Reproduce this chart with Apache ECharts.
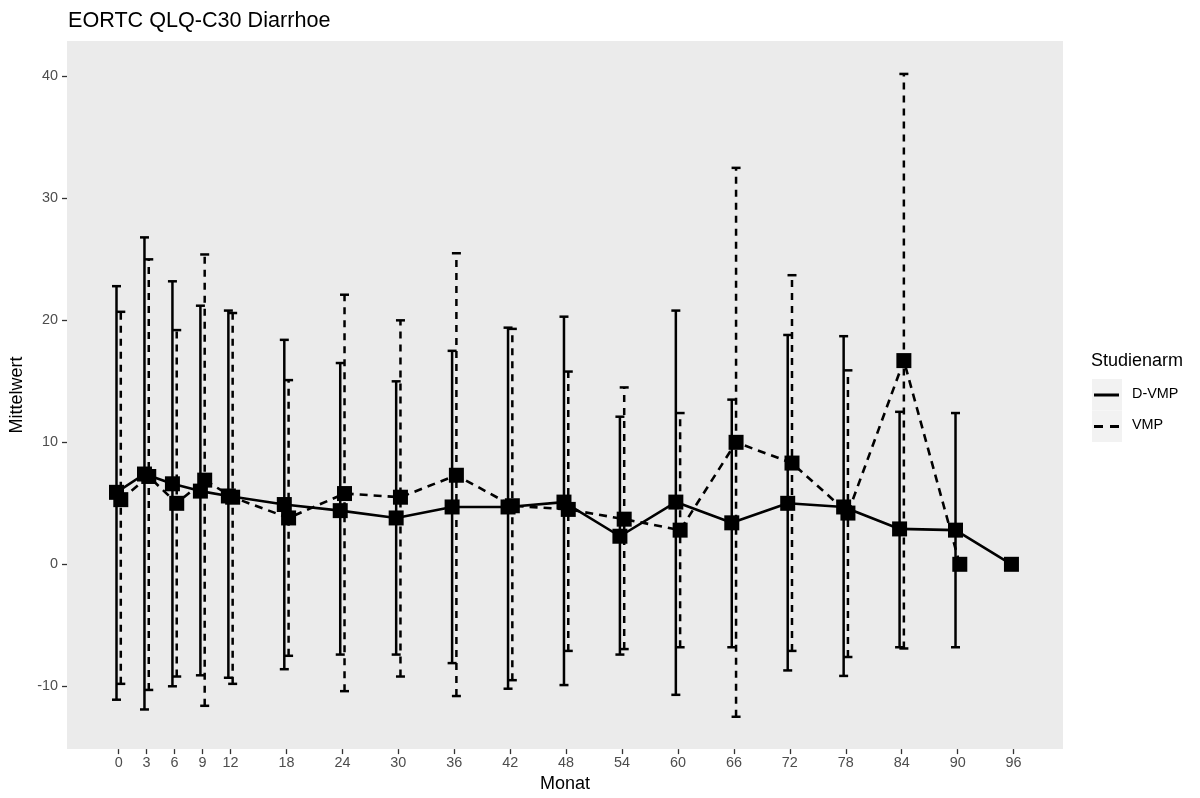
<!DOCTYPE html>
<html>
<head>
<meta charset="utf-8">
<script src="https://cdn.jsdelivr.net/npm/echarts@6/dist/echarts.min.js"></script>
<style>
  html, body { margin: 0; padding: 0; background: #fff; }
  #chart { width: 1200px; height: 798px; }
</style>
</head>
<body>
<div id="chart"></div>
<script>
// months of follow-up
const months = [0, 3, 6, 9, 12, 18, 24, 30, 36, 42, 48, 54, 60, 66, 72, 78, 84, 90, 96];
const xTicks = [0, 3, 6, 9, 12, 18, 24, 30, 36, 42, 48, 54, 60, 66, 72, 78, 84, 90, 96];
const yTicks = [-10, 0, 10, 20, 30, 40];

// D-VMP arm
const dvmpMean = [5.9, 7.4, 6.6, 6.0, 5.6, 4.9, 4.4, 3.8, 4.7, 4.7, 5.1, 2.3, 5.1, 3.4, 5.0, 4.7, 2.9, 2.8, 0];
const dvmpUpper = [22.8, 26.8, 23.2, 21.2, 20.8, 18.4, 16.5, 15.0, 17.5, 19.4, 20.3, 12.1, 20.8, 13.5, 18.8, 18.7, 12.5, 12.4, null];
const dvmpLower = [-11.1, -11.9, -10.0, -9.1, -9.3, -8.6, -7.4, -7.4, -8.1, -10.2, -9.9, -7.4, -10.7, -6.8, -8.7, -9.15, -6.8, -6.8, null];

// VMP arm (no value at month 96)
const vmpMean = [5.3, 7.2, 5.0, 6.9, 5.5, 3.8, 5.8, 5.5, 7.3, 4.8, 4.5, 3.7, 2.8, 10.0, 8.3, 4.2, 16.7, 0];
const vmpUpper = [20.7, 25.0, 19.2, 25.4, 20.6, 15.1, 22.1, 20.0, 25.5, 19.3, 15.8, 14.5, 12.4, 32.5, 23.7, 15.9, 40.2, null];
const vmpLower = [-9.8, -10.3, -9.2, -11.6, -9.8, -7.5, -10.4, -9.2, -10.8, -9.5, -7.1, -6.95, -6.8, -12.5, -7.1, -7.6, -6.9, null];

const dodge = 0.23;
const font = '"Liberation Sans", Arial, sans-serif';

function meanData(mean, shift) {
    return mean.map((v, i) => [months[i] + shift, v]);
}

function barData(lower, upper, shift) {
    const out = [];
    lower.forEach((lo, i) => {
        if (lo !== null && upper[i] !== null) out.push([months[i] + shift, lo, upper[i]]);
    });
    return out;
}

function errorBars(dash) {
    return function (params, api) {
        const lo = api.coord([api.value(0), api.value(1)]);
        const hi = api.coord([api.value(0), api.value(2)]);
        const w = 4.5;
        const style = { stroke: '#000', lineWidth: 2.5, lineDash: dash, fill: null };
        return {
            type: 'group',
            children: [
                { type: 'line', shape: { x1: lo[0], y1: lo[1], x2: hi[0], y2: hi[1] }, style: style },
                { type: 'line', shape: { x1: hi[0] - w, y1: hi[1], x2: hi[0] + w, y2: hi[1] }, style: { stroke: '#000', lineWidth: 2.5 } },
                { type: 'line', shape: { x1: lo[0] - w, y1: lo[1], x2: lo[0] + w, y2: lo[1] }, style: { stroke: '#000', lineWidth: 2.5 } }
            ]
        };
    };
}

const chart = echarts.init(document.getElementById('chart'));
const option = {
    animation: false,
    backgroundColor: '#ffffff',
    title: {
        text: 'EORTC QLQ-C30 Diarrhoe',
        left: 63,
        top: 5,
        textStyle: { fontFamily: font, fontSize: 21.6, fontWeight: 'normal', color: '#000' }
    },
    grid: {
        left: 66, top: 41, right: 137, bottom: 45.5,
        show: true, backgroundColor: '#EBEBEB', borderWidth: 0
    },
    xAxis: {
        type: 'value',
        min: -5.54,
        max: 101.3,
        name: 'Monat',
        nameLocation: 'middle',
        nameGap: 25,
        nameTextStyle: { fontFamily: font, fontSize: 18, color: '#000' },
        axisLine: { show: false, onZero: false },
        splitLine: { show: false },
        axisTick: { show: true, customValues: xTicks, length: 5, lineStyle: { color: '#333', width: 1.3 } },
        axisLabel: { customValues: xTicks, margin: 7, fontFamily: font, fontSize: 14.4, color: '#4D4D4D' }
    },
    yAxis: {
        type: 'value',
        min: -15.15,
        max: 42.9,
        name: 'Mittelwert',
        nameLocation: 'middle',
        nameGap: 41,
        nameRotate: 90,
        nameTextStyle: { fontFamily: font, fontSize: 18, color: '#000' },
        axisLine: { show: false, onZero: false },
        splitLine: { show: false },
        axisTick: { show: true, customValues: yTicks, length: 5, lineStyle: { color: '#333', width: 1.3 } },
        axisLabel: { customValues: yTicks, margin: 9, fontFamily: font, fontSize: 14.4, color: '#4D4D4D' }
    },
    series: [
        {
            name: 'D-VMP bars',
            type: 'custom',
            renderItem: errorBars(null),
            data: barData(dvmpLower, dvmpUpper, -dodge),
            z: 1
        },
        {
            name: 'VMP bars',
            type: 'custom',
            renderItem: errorBars([7, 6]),
            data: barData(vmpLower, vmpUpper, dodge),
            z: 1
        },
        {
            name: 'D-VMP',
            type: 'line',
            data: meanData(dvmpMean, -dodge),
            symbol: 'rect',
            symbolSize: 15,
            itemStyle: { color: '#000' },
            lineStyle: { color: '#000', width: 2.6 },
            z: 3
        },
        {
            name: 'VMP',
            type: 'line',
            data: meanData(vmpMean, dodge),
            symbol: 'rect',
            symbolSize: 15,
            itemStyle: { color: '#000' },
            lineStyle: { color: '#000', width: 2.6, type: [8, 6] },
            z: 2
        }
    ],
    graphic: [
        { type: 'text', left: 1091, top: 352, style: { text: 'Studienarm', fontFamily: font, fontSize: 18, fill: '#000' } },
        { type: 'rect', shape: { x: 1092, y: 379, width: 30, height: 31.5 }, style: { fill: '#F2F2F2' } },
        { type: 'rect', shape: { x: 1092, y: 410.5, width: 30, height: 31.5 }, style: { fill: '#F2F2F2' } },
        { type: 'line', shape: { x1: 1094, y1: 395, x2: 1119, y2: 395 }, style: { stroke: '#000', lineWidth: 3 } },
        { type: 'line', shape: { x1: 1094, y1: 426.5, x2: 1119, y2: 426.5 }, style: { stroke: '#000', lineWidth: 3, lineDash: [9, 7] } },
        { type: 'text', left: 1132, top: 387, style: { text: 'D-VMP', fontFamily: font, fontSize: 14.4, fill: '#000' } },
        { type: 'text', left: 1132, top: 418.5, style: { text: 'VMP', fontFamily: font, fontSize: 14.4, fill: '#000' } }
    ]
};
chart.setOption(option);
</script>
</body>
</html>
